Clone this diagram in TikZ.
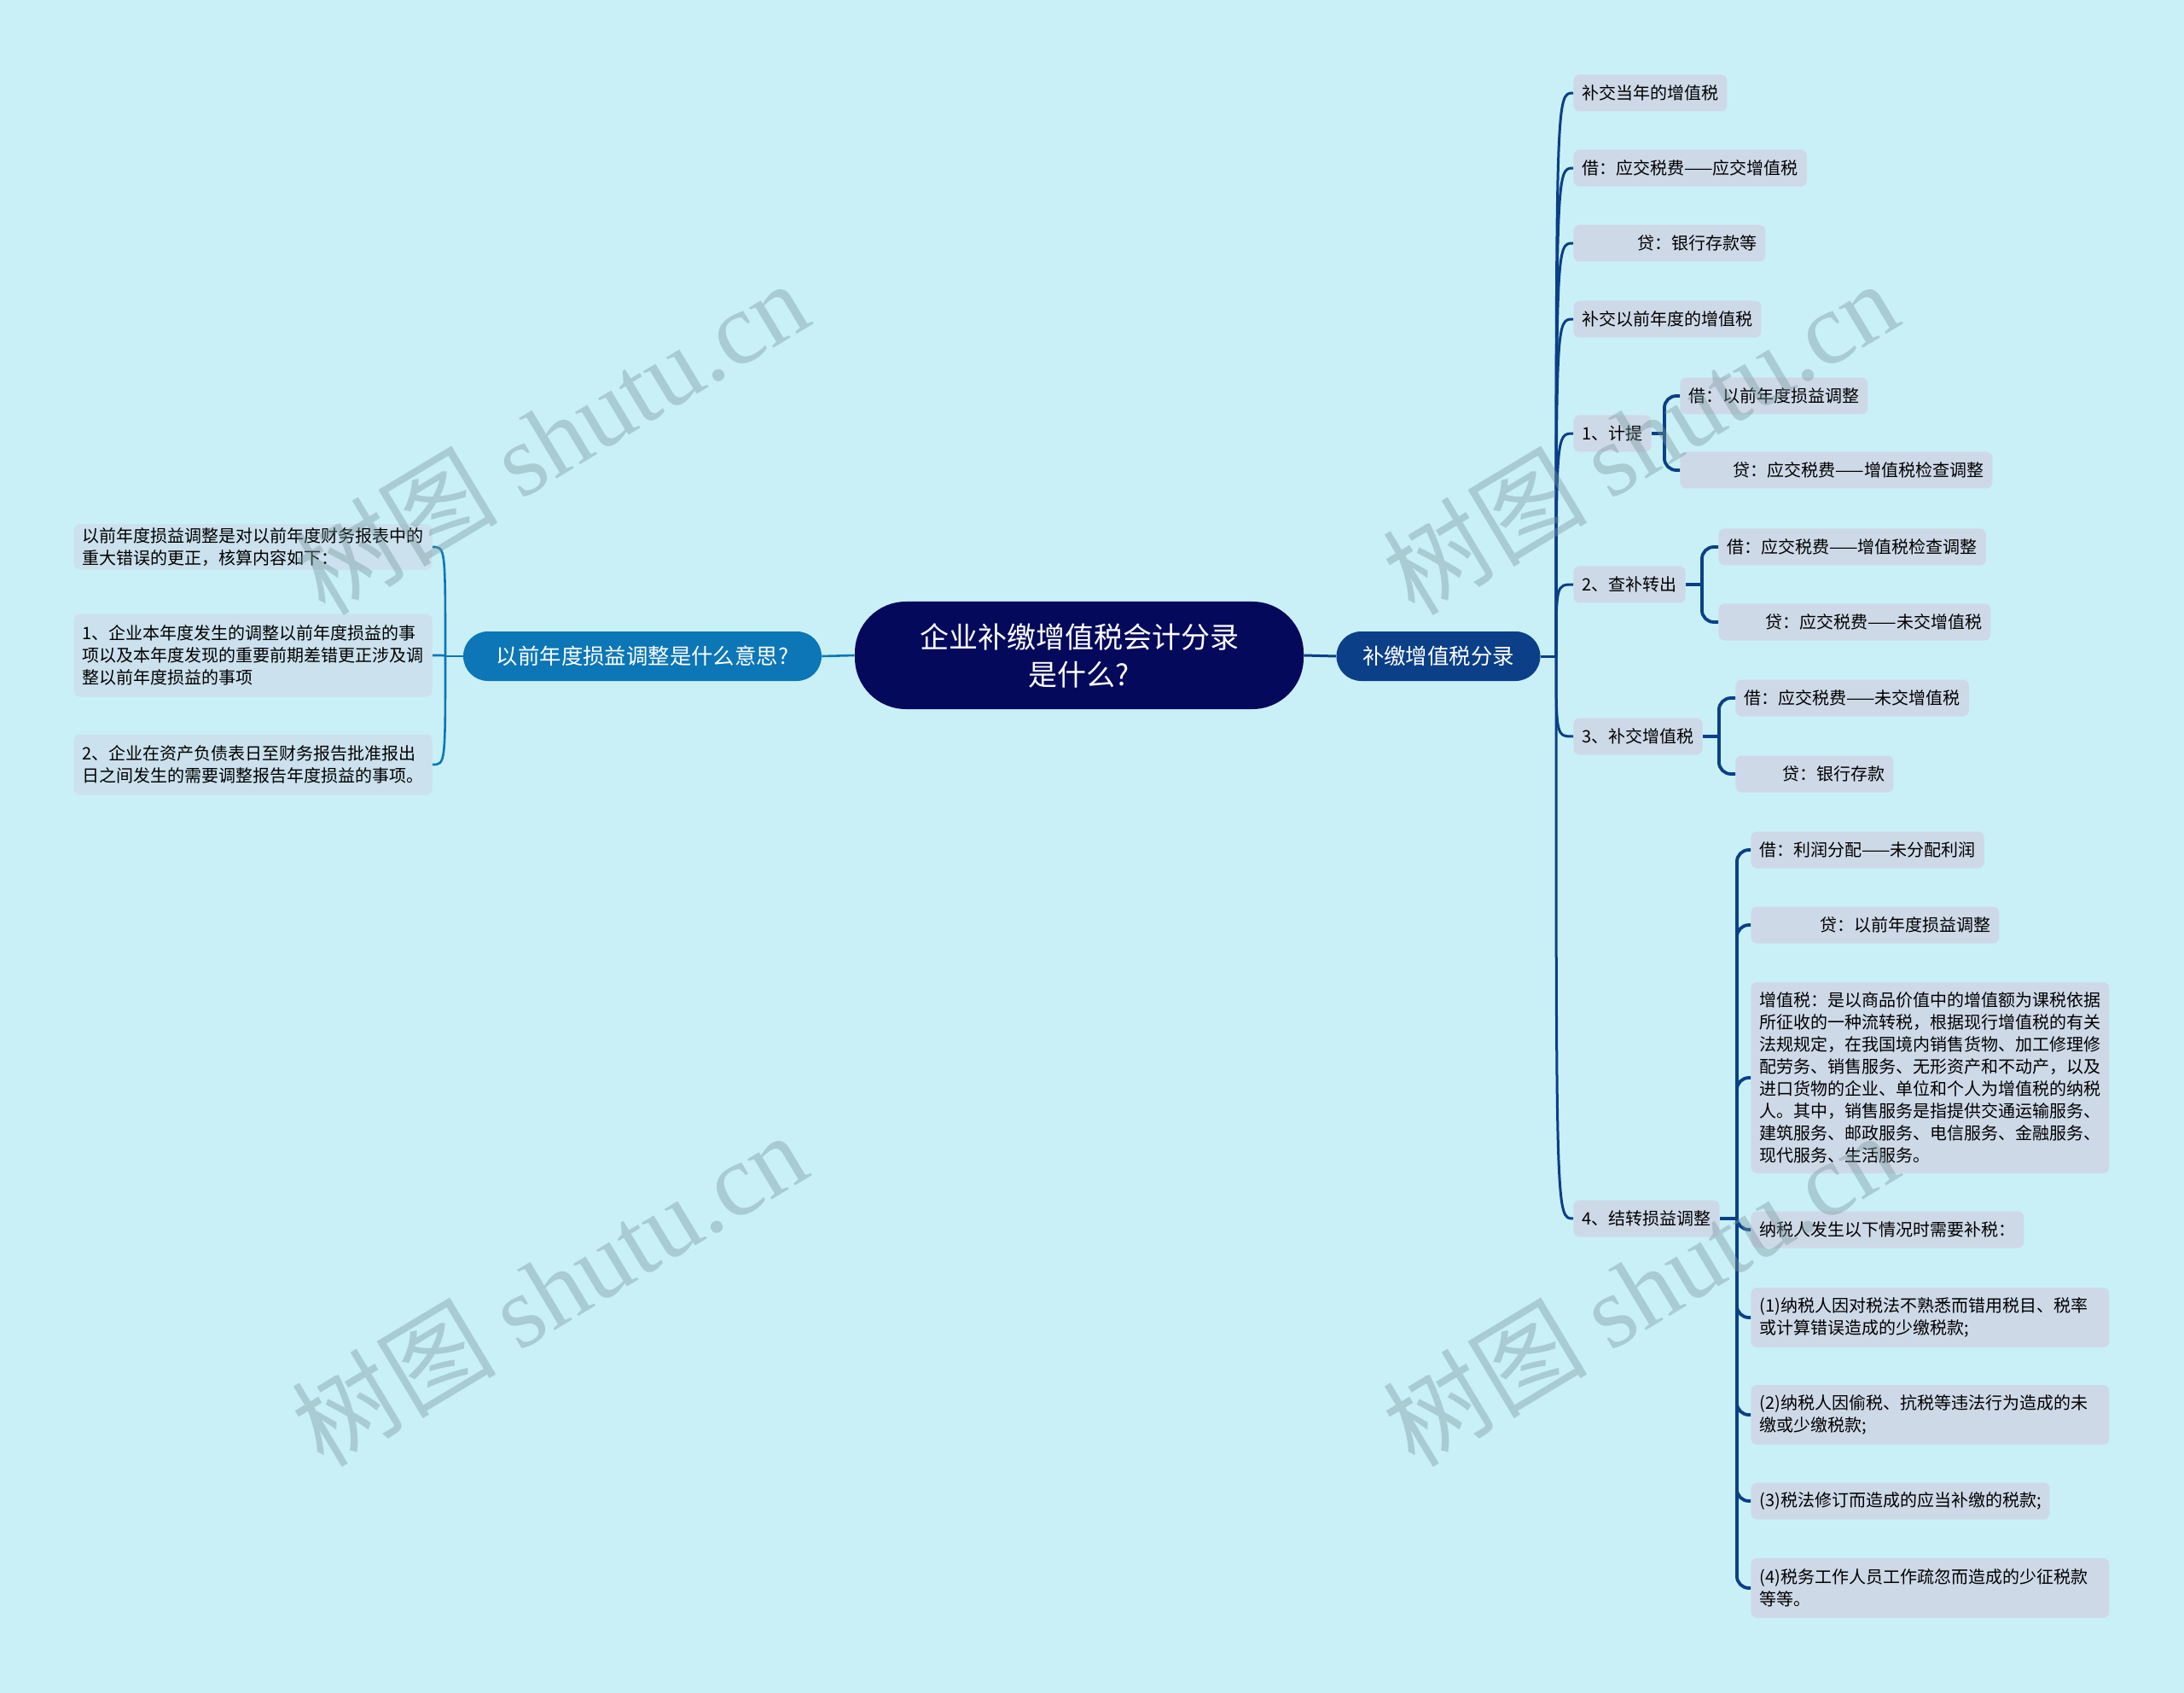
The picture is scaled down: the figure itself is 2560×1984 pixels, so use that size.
\documentclass[tikz,border=0pt]{standalone}
\usepackage{fontspec}
\setmainfont{Noto Sans CJK SC}
\newfontfamily\wmserif{Liberation Serif}
\usepackage{xcolor}
\usepackage{tikz}
\usetikzlibrary{calc,positioning}
\definecolor{bgcyan}{RGB}{201,240,247}
\definecolor{rootblue}{RGB}{5,9,92}
\definecolor{mainr}{RGB}{11,63,135}
\definecolor{mainl}{RGB}{12,118,182}
\definecolor{leafr}{RGB}{206,217,232}
\definecolor{leafl}{RGB}{203,225,237}
\definecolor{wmgray}{RGB}{120,150,155}
\tikzset{
  root_n/.style = {rectangle, rounded corners=30pt, fill=rootblue, text=white, align=center, font=\fontsize{17}{22}\selectfont, minimum width=263pt, minimum height=63pt, inner sep=0pt},
  main_n/.style = {rectangle, rounded corners=14.5pt, text=white, font=\fontsize{12.7}{15}\selectfont, minimum height=29pt, inner sep=0pt},
  main_r/.style = {main_n, fill=mainr, minimum width=119.5pt},
  main_l/.style = {main_n, fill=mainl, minimum width=210pt},
  leaf/.style = {rectangle, rounded corners=3.5pt, align=left, font=\fontsize{10}{13}\selectfont, inner xsep=5pt, inner ysep=2pt, minimum height=21.5pt},
  leaf_r/.style = {leaf, fill=leafr, anchor=west},
  leaf_l/.style = {leaf, fill=leafl, anchor=east, text width=200pt},
  wide/.style = {text width=200pt},
  rbox/.style = {text width=#1, align=right},
  conn_r/.style = {draw=mainr, line width=1.5pt},
  conn_b/.style = {draw=mainr, line width=1.9pt},
  conn_l/.style = {draw=mainl, line width=1.3pt},
  wm_txt/.style = {rotate=31, text=wmgray, text opacity=0.4, font=\fontsize{60}{60}\selectfont}
}
\begin{document}
\begin{tikzpicture}[x=0.5pt, y=-0.5pt]
\fill[bgcyan] (0,0) rectangle (2560,1984);
\useasboundingbox (0,0) rectangle (2560,1984);

\node[root_n] (root) at (1265,768) {企业补缴增值税会计分录\\是什么?};
\node[main_r] (mr) at (1686,769) {补缴增值税分录};
\node[main_l] (ml) at (753,769) {以前年度损益调整是什么意思?};

\node[leaf_l] (l1) at (507,641) {以前年度损益调整是对以前年度财务报表中的\\重大错误的更正，核算内容如下：};
\node[leaf_l, minimum height=48.5pt] (l2) at (507,768) {1、企业本年度发生的调整以前年度损益的事\\项以及本年度发现的重要前期差错更正涉及调\\整以前年度损益的事项};
\node[leaf_l, minimum height=35.5pt] (l3) at (507,896) {2、企业在资产负债表日至财务报告批准报出\\日之间发生的需要调整报告年度损益的事项。};

\node[leaf_r] (r1) at (1844,109) {补交当年的增值税};
\node[leaf_r] (r2) at (1844,197) {借：应交税费——应交增值税};
\node[leaf_r, rbox=102.5pt] (r3) at (1844,285) {贷：银行存款等};
\node[leaf_r] (r4) at (1844,374) {补交以前年度的增值税};
\node[leaf_r] (r5) at (1844,508) {1、计提};
\node[leaf_r] (r5a) at (1969,464) {借：以前年度损益调整};
\node[leaf_r, rbox=173pt] (r5b) at (1969,551) {贷：应交税费——增值税检查调整};
\node[leaf_r] (r6) at (1844,685) {2、查补转出};
\node[leaf_r] (r6a) at (2014,641) {借：应交税费——增值税检查调整};
\node[leaf_r, rbox=149.5pt] (r6b) at (2014,729) {贷：应交税费——未交增值税};
\node[leaf_r] (r7) at (1844,863) {3、补交增值税};
\node[leaf_r] (r7a) at (2034,818) {借：应交税费——未交增值税};
\node[leaf_r, rbox=82.5pt] (r7b) at (2034,907) {贷：银行存款};
\node[leaf_r] (r8) at (1844,1428) {4、结转损益调整};
\node[leaf_r] (r8a) at (2052,996) {借：利润分配——未分配利润};
\node[leaf_r, rbox=135.5pt] (r8b) at (2052,1084) {贷：以前年度损益调整};
\node[leaf_r, wide, minimum height=112pt] (r8c) at (2052,1263) {增值税：是以商品价值中的增值额为课税依据\\所征收的一种流转税，根据现行增值税的有关\\法规规定，在我国境内销售货物、加工修理修\\配劳务、销售服务、无形资产和不动产，以及\\进口货物的企业、单位和个人为增值税的纳税\\人。其中，销售服务是指提供交通运输服务、\\建筑服务、邮政服务、电信服务、金融服务、\\现代服务、生活服务。};
\node[leaf_r] (r8d) at (2052,1441) {纳税人发生以下情况时需要补税：};
\node[leaf_r, wide, minimum height=35pt] (r8e) at (2052,1544) {(1)纳税人因对税法不熟悉而错用税目、税率\\或计算错误造成的少缴税款;};
\node[leaf_r, wide, minimum height=35pt] (r8f) at (2052,1658) {(2)纳税人因偷税、抗税等违法行为造成的未\\缴或少缴税款;};
\node[leaf_r] (r8g) at (2052,1759) {(3)税法修订而造成的应当补缴的税款;};
\node[leaf_r, wide, minimum height=35pt] (r8h) at (2052,1861) {(4)税务工作人员工作疏忽而造成的少征税款\\等等。};

\draw[conn_r] (root.east) -- (mr.west);
\draw[conn_l] (root.west) -- (ml.east);

\coordinate (jr) at (1824,769);
\draw[conn_r] (mr.east) -- (jr);
\foreach \n in {r1,r2,r3,r4,r5,r6,r7,r8}
  \draw[conn_r] (jr) .. controls (jr |- \n.west) .. (\n.west);

\coordinate (jl) at (522,769);
\draw[conn_l] (ml.west) -- (jl);
\foreach \n in {l1,l2,l3}
  \draw[conn_l] (jl) .. controls (jl |- \n.east) .. (\n.east);

\draw[conn_b] (r5.east) -- ++(15,0) coordinate (j5);
\draw[conn_b] (r6.east) -- ++(19,0) coordinate (j6);
\draw[conn_b] (r7.east) -- ++(19,0) coordinate (j7);
\draw[conn_b] (r8.east) -- ++(20,0) coordinate (j8);
\foreach \j/\c in {j5/r5a,j5/r5b,j6/r6a,j6/r6b,j7/r7a,j7/r7b,j8/r8a,j8/r8b,j8/r8c,j8/r8d,j8/r8e,j8/r8f,j8/r8g,j8/r8h}
  \draw[conn_b, rounded corners=7pt] (\j) |- (\c.west);

\foreach \x/\y in {645/512,1922/512,643/1510,1922/1510}
  \node[wm_txt] at (\x,\y) {树图 {\wmserif shutu.cn}};
\end{tikzpicture}
\end{document}
